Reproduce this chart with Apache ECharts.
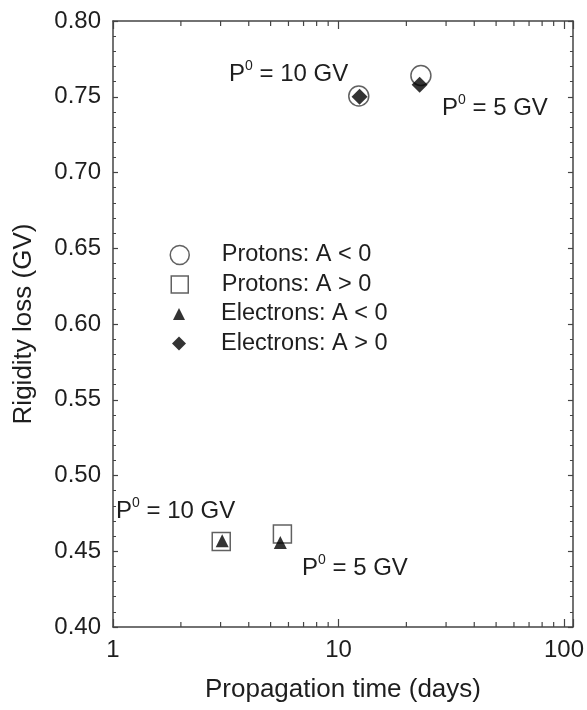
<!DOCTYPE html>
<html>
<head>
<meta charset="utf-8">
<script src="https://cdn.jsdelivr.net/npm/echarts@6/dist/echarts.min.js"></script>
<style>
html,body{margin:0;padding:0;background:#fff;}
#chart{width:587px;height:710px;}
</style>
</head>
<body>
<div id="chart"></div>
<script>
// ---- data ----
const protonsNeg = [[12.3, 0.7505], [23.2, 0.764]];   // Protons: A < 0 (open circles)
const protonsPos = [[3.02, 0.4564], [5.64, 0.4614]];  // Protons: A > 0 (open squares)
const electronsNeg = [[3.05, 0.4570], [5.52, 0.4558]]; // Electrons: A < 0 (triangles)
const electronsPos = [[12.4, 0.7500], [22.9, 0.7580]]; // Electrons: A > 0 (diamonds)
const seriesNames = ['Protons: A < 0', 'Protons: A > 0', 'Electrons: A < 0', 'Electrons: A > 0'];
const xMinorTicks = [2, 3, 4, 5, 6, 7, 8, 9, 20, 30, 40, 50, 60, 70, 80, 90];
const xMajorLabels = [1, 10, 100];
const annotations = [
  {text: '10 GV', x: 229, y: 59},
  {text: '5 GV', x: 442, y: 93},
  {text: '10 GV', x: 116, y: 496},
  {text: '5 GV', x: 302, y: 553}
];

const FONT = '"Liberation Sans", Arial, Helvetica, sans-serif';
const TXT = '#1e1e1e';
const AX = '#444';

const chart = echarts.init(document.getElementById('chart'), null, {renderer: 'canvas'});

const openStyle = {color: 'rgba(255,255,255,0)', borderColor: '#3a3a3a', borderWidth: 1.5};
const solidStyle = {color: '#000', borderWidth: 0};

function legendAt(name, icon, h, center, style) {
  const pad = 37 - h / 2;
  return {
    orient: 'vertical', left: 179 - h / 2, top: center - 12, padding: 0,
    itemWidth: h, itemHeight: h, selectedMode: false,
    formatter: n => '{t|' + n + '}',
    textStyle: {fontFamily: FONT, fontSize: 23.5, color: TXT,
      rich: {t: {fontFamily: FONT, fontSize: 23.5, color: TXT, padding: [0, 0, 0, pad]}}},
    data: [{name: name, icon: icon, itemStyle: style}]
  };
}

const option = {
  animation: false,
  backgroundColor: '#fff',
  grid: {left: 113, right: 12, top: 21, bottom: 83, containLabel: false},
  xAxis: [{
    type: 'log', logBase: 10, min: 1, max: 109.6,
    name: 'Propagation time (days)', nameLocation: 'middle', nameGap: 50,
    nameTextStyle: {fontFamily: FONT, fontSize: 26, color: TXT},
    axisLine: {lineStyle: {color: AX, width: 1.5}},
    axisTick: {inside: true, length: 8, lineStyle: {color: AX, width: 1.2}},
    axisLabel: {
      fontFamily: FONT, fontSize: 24, color: TXT, margin: 11,
      formatter: function (v) {
        const l = Math.log10(v);
        if (Math.abs(l - Math.round(l)) > 0.001) return '';
        const r = Math.round(Math.pow(10, Math.round(l)));
        return xMajorLabels.indexOf(r) < 0 ? '' : String(r);
      }
    },
    splitLine: {show: false}
  }, {
    type: 'log', logBase: 10, min: 1, max: 109.6, position: 'top',
    axisLine: {lineStyle: {color: AX, width: 1.5}},
    axisTick: {inside: true, length: 8, lineStyle: {color: AX, width: 1.2}},
    axisLabel: {show: false},
    splitLine: {show: false}
  }],
  yAxis: [{
    type: 'value', min: 0.4, max: 0.8, interval: 0.05,
    name: 'Rigidity loss (GV)', nameLocation: 'middle', nameGap: 76,
    nameTextStyle: {fontFamily: FONT, fontSize: 26, color: TXT},
    axisLine: {show: true, lineStyle: {color: AX, width: 1.5}},
    axisTick: {show: true, inside: true, length: 5, lineStyle: {color: AX, width: 1.2}},
    minorTick: {show: true, splitNumber: 5, length: 3, lineStyle: {color: AX, width: 1}},
    axisLabel: {fontFamily: FONT, fontSize: 24, color: TXT, margin: 12,
      formatter: v => v.toFixed(2)},
    splitLine: {show: false}
  }, {
    type: 'value', min: 0.4, max: 0.8, interval: 0.05, position: 'right',
    axisLine: {show: true, lineStyle: {color: AX, width: 1.5}},
    axisTick: {show: true, inside: true, length: 5, lineStyle: {color: AX, width: 1.2}},
    minorTick: {show: true, splitNumber: 5, length: 3, lineStyle: {color: AX, width: 1}},
    axisLabel: {show: false},
    splitLine: {show: false}
  }],
  legend: [
    legendAt(seriesNames[0], 'circle', 19, 255, openStyle),
    legendAt(seriesNames[1], 'rect', 17, 284.5, openStyle),
    legendAt(seriesNames[2], 'triangle', 12, 314, solidStyle),
    legendAt(seriesNames[3], 'diamond', 14, 343.5, solidStyle)
  ],
  series: [{
    type: 'custom', name: 'minorTicks', silent: true, xAxisIndex: 0, yAxisIndex: 0,
    data: xMinorTicks.map(v => [v, 0.4]),
    renderItem: function (params, api) {
      const p = api.coord([api.value(0), 0.4]);
      const cs = params.coordSys;
      const top = cs.y, bottom = cs.y + cs.height;
      const st = {stroke: AX, lineWidth: 1.2};
      return {type: 'group', children: [
        {type: 'line', shape: {x1: p[0], y1: bottom, x2: p[0], y2: bottom - 5}, style: st},
        {type: 'line', shape: {x1: p[0], y1: top, x2: p[0], y2: top + 5}, style: st}
      ]};
    }
  }, {
    name: seriesNames[0], type: 'scatter', symbol: 'circle', symbolSize: 20,
    itemStyle: openStyle, data: protonsNeg, emphasis: {disabled: true}
  }, {
    name: seriesNames[1], type: 'scatter', symbol: 'rect', symbolSize: 18,
    itemStyle: openStyle, data: protonsPos, emphasis: {disabled: true}
  }, {
    name: seriesNames[2], type: 'scatter', symbol: 'triangle', symbolSize: 13,
    itemStyle: solidStyle, data: electronsNeg, emphasis: {disabled: true}
  }, {
    name: seriesNames[3], type: 'scatter', symbol: 'diamond', symbolSize: 16,
    itemStyle: solidStyle, data: electronsPos, emphasis: {disabled: true}
  }],
  graphic: annotations.map(a => ({
    type: 'text', x: a.x, y: a.y, silent: true,
    style: {
      text: '{m|P}{s|0}{m| = ' + a.text + '}',
      fill: TXT,
      rich: {
        m: {fontFamily: FONT, fontSize: 24, lineHeight: 27, fill: TXT, verticalAlign: 'bottom'},
        s: {fontFamily: FONT, fontSize: 14, lineHeight: 14, fill: TXT, verticalAlign: 'top'}
      }
    }
  }))
};
chart.setOption(option);
</script>
</body>
</html>
